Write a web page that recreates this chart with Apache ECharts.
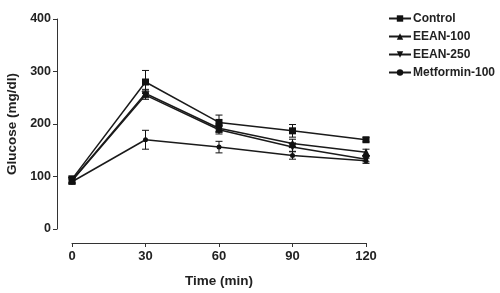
<!DOCTYPE html>
<html><head><meta charset="utf-8">
<script src="https://cdn.jsdelivr.net/npm/echarts@6/dist/echarts.min.js"></script>
<style>html,body{margin:0;padding:0;background:#fff}#c{width:500px;height:293px}</style>
</head><body><div id="c"></div>
<script>
var times = [0, 30, 60, 90, 120];
var seriesNames = ['Control', 'EEAN-100', 'EEAN-250', 'Metformin-100'];
var controlMean = [95, 280, 203, 187, 170];
var controlErr = [6, 22, 14, 12, 4];
var eean100Mean = [93, 258, 192, 163, 146];
var eean100Err = [5, 8, 8, 8, 6];
var eean250Mean = [92, 255, 189, 156, 133];
var eean250Err = [5, 8, 8, 8, 5];
var metMean = [90, 170, 156, 140, 130];
var metErr = [5, 18, 11, 7, 5];
var yTicks = [0, 100, 200, 300, 400];

var means = [controlMean, eean100Mean, eean250Mean, metMean];
var errs = [controlErr, eean100Err, eean250Err, metErr];
var symbols = ['rect', 'triangle', 'triangle', 'circle'];
var symRot = [0, 0, 180, 0];
var symSizes = [7, 8, 8, 5];
var font = '"Liberation Sans", Arial, sans-serif';

var series = [];
means.forEach(function (m, i) {
  var errData = times.map(function (t, j) { return [t, m[j] - errs[i][j], m[j] + errs[i][j]]; });
  series.push({
    type: 'custom',
    name: seriesNames[i] + '_err',
    data: errData,
    clip: false,
    z: 1,
    renderItem: function (params, api) {
      var x = api.value(0);
      var lo = api.coord([x, api.value(1)]);
      var hi = api.coord([x, api.value(2)]);
      var w = 3.5;
      var st = { stroke: '#111', lineWidth: 1 };
      return { type: 'group', children: [
        { type: 'line', shape: { x1: lo[0], y1: lo[1], x2: hi[0], y2: hi[1] }, style: st },
        { type: 'line', shape: { x1: lo[0] - w, y1: lo[1], x2: lo[0] + w, y2: lo[1] }, style: st },
        { type: 'line', shape: { x1: hi[0] - w, y1: hi[1], x2: hi[0] + w, y2: hi[1] }, style: st }
      ]};
    }
  });
  series.push({
    type: 'line',
    name: seriesNames[i],
    data: times.map(function (t, j) { return [t, m[j]]; }),
    symbol: symbols[i],
    symbolSize: symSizes[i],
    symbolRotate: symRot[i],
    showAllSymbol: true,
    clip: false,
    z: 2,
    lineStyle: { color: '#1a1a1a', width: 1.5 },
    itemStyle: { color: '#111', borderWidth: 0 }
  });
});

var chart = echarts.init(document.getElementById('c'), null, { renderer: 'canvas' });
chart.setOption({
  animation: false,
  backgroundColor: '#fff',
  grid: { left: 72, right: 134, top: 19, bottom: 64, containLabel: false, outerBoundsMode: 'none' },
  legend: {
    data: seriesNames,
    orient: 'vertical',
    left: 383, top: 6,
    itemWidth: 22, itemHeight: 8, itemGap: 3,
    textStyle: { fontFamily: font, fontWeight: 'bold', fontSize: 12, lineHeight: 15, color: '#222', padding: [0, 0, 0, -3] }
  },
  xAxis: {
    type: 'value', min: 0, max: 120, interval: 30,
    offset: 14,
    name: 'Time (min)', nameLocation: 'middle', nameGap: 31,
    nameTextStyle: { fontFamily: font, fontWeight: 'bold', fontSize: 13.5, color: '#222' },
    axisLine: { show: true, onZero: false, lineStyle: { color: '#333', width: 1 } },
    axisTick: { show: true, inside: false, length: 4, lineStyle: { color: '#333' } },
    axisLabel: { fontFamily: font, fontWeight: 'bold', fontSize: 13, color: '#222', margin: 7 },
    splitLine: { show: false }
  },
  yAxis: {
    type: 'value', min: 0, max: 400, interval: 100,
    offset: 15,
    name: 'Glucose (mg/dl)', nameLocation: 'middle', nameGap: 34, nameRotate: 90,
    nameTextStyle: { fontFamily: font, fontWeight: 'bold', fontSize: 13.5, color: '#222' },
    axisLine: { show: true, onZero: false, lineStyle: { color: '#333', width: 1 } },
    axisTick: { show: true, length: 4, lineStyle: { color: '#333' } },
    axisLabel: { fontFamily: font, fontWeight: 'bold', fontSize: 12.5, color: '#222', margin: 6,
      formatter: function (v) { return yTicks.indexOf(v) >= 0 ? String(v) : ''; } },
    splitLine: { show: false }
  },
  series: series
});
</script></body></html>
